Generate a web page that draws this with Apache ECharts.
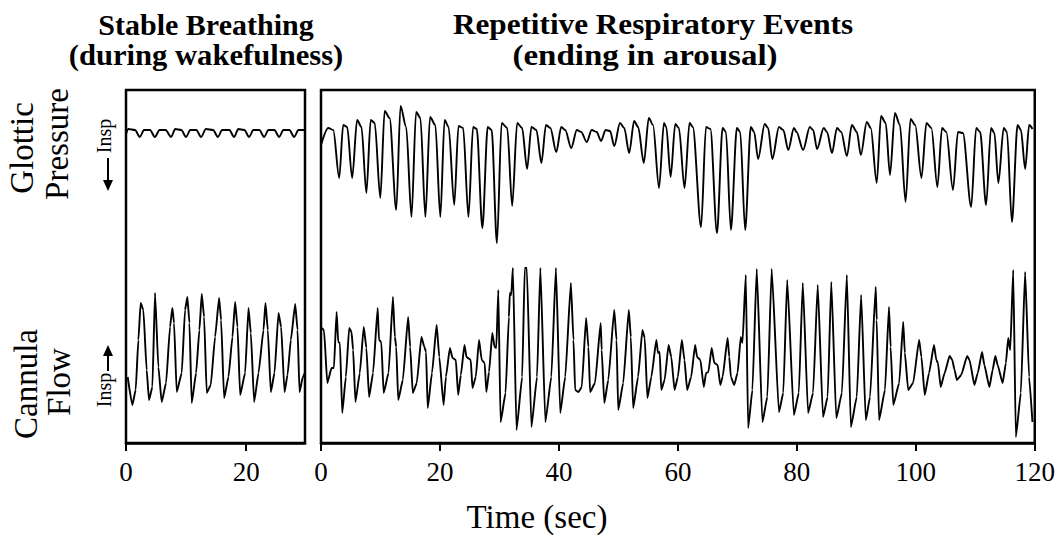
<!DOCTYPE html>
<html>
<head>
<meta charset="utf-8">
<script src="https://cdn.jsdelivr.net/npm/echarts@6/dist/echarts.min.js"></script>
<style>
html,body{margin:0;padding:0;background:#fff;}
#chart{width:1058px;height:542px;}
</style>
</head>
<body>
<div id="chart"></div>
<script>
// ---- Data (time in s, signals in arbitrary units) ----
const leftTicks = [0, 20];
const rightTicks = [0, 20, 40, 60, 80, 100, 120];

const leftPressure = [[0,-4],[0.4,1],[1.5,0],[2.3,-7],[3.0,0],[4.0,0],[4.8,-7],[5.6,0],[6.6,0],[7.5,-7],[8.2,1],[9.2,0],[10.0,-7],[10.7,0],[11.7,0],[12.5,-7],[13.3,1],[14.5,0],[15.3,-7],[16.0,0],[17.2,0],[18.0,-7],[18.7,1],[19.7,0],[20.5,-7],[21.2,0],[22.2,0],[23.0,-7],[23.7,0],[24.7,0],[25.5,-7],[26.2,0],[27.2,0],[28.0,-7],[28.7,0],[29.8,0]];

const leftFlow = [[0.28,-7],[1.06,-35],[1.61,-20],[2.06,30],[2.44,67],[2.89,60],[3.44,0],[3.83,-30],[4.39,-17],[4.83,77],[5.39,3],[5.94,-32],[6.67,-13],[7.33,43],[7.72,62],[8.00,47],[8.44,-22],[9.28,-3],[9.83,60],[10.22,73],[10.56,47],[10.94,-33],[11.67,-3],[12.22,40],[12.61,76],[13.00,53],[13.44,-23],[14.11,-15],[14.83,33],[15.50,72],[15.83,50],[16.33,-28],[17.06,-7],[17.72,33],[18.17,68],[18.56,43],[19.00,-25],[19.83,-3],[20.39,62],[20.78,37],[21.33,-32],[22.06,-3],[22.89,40],[23.22,67],[23.61,40],[24.11,-22],[24.72,-3],[25.39,57],[25.83,43],[26.39,-22],[26.89,-5],[27.44,30],[28.17,66],[28.56,40],[28.89,-22],[29.44,-7],[29.78,-3]];

const rightPressure = [[0,-15],[1.23,2],[2.06,0],[3.06,-48],[3.73,5],[4.40,3],[5.24,-48],[6.07,10],[6.80,3],[7.63,-63],[8.36,10],[9.03,7],[9.97,-68],[10.70,19],[11.53,12],[12.65,-80],[13.37,24],[14.32,3],[15.21,-87],[15.99,18],[16.71,12],[17.55,-87],[18.33,13],[19.22,5],[20.06,-87],[20.78,10],[21.45,3],[22.40,-75],[23.12,4],[23.90,2],[24.79,-87],[25.57,3],[26.19,1],[27.13,-98],[28.03,3],[28.69,0],[29.58,-113],[30.37,7],[31.31,2],[32.14,-76],[32.98,7],[33.81,2],[34.65,-39],[35.38,3],[36.21,0],[37.05,-33],[37.83,5],[38.56,2],[39.56,-22],[40.39,3],[41.06,0],[42.07,-18],[43.01,0],[43.74,-2],[44.68,-12],[45.51,0],[46.35,-2],[47.08,-11],[47.85,0],[48.59,-1],[49.31,-16],[50.26,7],[50.98,2],[51.81,-23],[52.65,9],[53.32,3],[54.27,-33],[55.11,12],[55.82,5],[56.83,-58],[57.66,7],[58.05,3],[58.78,-47],[59.56,6],[60.17,2],[61.12,-58],[61.96,7],[62.51,3],[63.90,-97],[64.73,3],[65.47,1],[66.57,-103],[67.52,2],[68.08,-2],[68.91,-100],[69.92,2],[70.48,-2],[71.31,-100],[72.26,3],[72.82,-2],[73.49,-29],[74.60,6],[75.16,2],[75.88,-29],[77.00,3],[77.72,0],[78.56,-20],[79.51,2],[79.95,-2],[81.06,-20],[82.18,3],[82.74,0],[83.40,-19],[84.52,2],[85.07,-2],[85.91,-23],[86.75,2],[87.46,-2],[88.42,-26],[89.25,5],[90.09,-2],[90.76,-25],[91.76,8],[92.43,2],[93.43,-53],[94.15,14],[94.94,7],[95.66,-45],[96.49,17],[97.33,5],[98.28,-72],[99.12,11],[99.90,5],[100.95,-48],[101.79,7],[102.62,2],[103.63,-57],[104.41,2],[105.13,-2],[106.25,-60],[107.09,-2],[107.92,-3],[109.31,-77],[110.15,2],[110.82,-2],[111.82,-75],[112.65,2],[113.21,-3],[113.88,-53],[114.78,2],[115.33,-2],[116.16,-92],[117.11,5],[117.67,0],[118.39,-39],[119.06,5],[119.62,1]];

const rightFlow = [[0.11,42],[0.50,40],[1.06,-13],[1.78,2],[2.17,2],[2.62,58],[2.90,28],[3.18,27],[3.57,-43],[4.18,-7],[4.74,42],[5.13,38],[5.40,20],[5.79,-32],[6.52,-3],[7.19,43],[7.63,22],[8.08,-27],[8.75,-3],[9.53,62],[9.75,30],[10.14,28],[10.53,-23],[11.36,-3],[12.09,73],[12.42,33],[12.65,23],[12.98,-30],[13.76,-10],[14.65,53],[14.99,23],[15.43,-23],[16.10,-13],[16.88,33],[17.38,23],[17.66,18],[17.94,-38],[18.66,-3],[19.44,45],[19.89,13],[20.61,-35],[21.00,-7],[21.67,22],[22.12,12],[22.67,10],[23.06,-25],[23.51,-5],[24.12,25],[24.46,13],[25.18,10],[25.46,-18],[26.02,-7],[26.57,30],[27.02,10],[27.52,7],[27.80,-22],[28.25,-2],[28.80,37],[29.19,23],[29.47,22],[29.81,80],[30.19,-52],[31.03,-23],[31.59,53],[31.75,77],[31.98,75],[32.26,102],[32.87,-60],[33.82,-7],[34.26,102],[34.60,102],[35.38,-57],[36.32,-7],[36.88,102],[37.72,-52],[38.72,-7],[39.50,102],[40.22,-43],[41.06,-7],[42.01,87],[42.45,30],[42.73,-20],[43.29,-22],[43.84,-17],[44.57,52],[44.96,23],[45.24,-22],[46.07,-13],[47.02,47],[47.19,20],[47.63,-33],[48.30,-10],[49.30,60],[49.69,30],[49.97,-40],[50.81,-13],[51.75,60],[52.09,33],[52.48,-38],[53.31,-7],[54.04,40],[54.43,32],[54.87,-28],[55.54,-7],[56.38,30],[56.66,17],[56.94,18],[57.21,-20],[57.77,-10],[58.44,25],[58.89,13],[59.44,-20],[60.00,-7],[60.67,30],[61.11,10],[61.56,-20],[62.23,-7],[62.90,25],[63.23,13],[63.79,10],[64.35,-17],[64.74,-3],[65.13,-2],[65.68,22],[66.13,7],[66.69,5],[67.13,-15],[67.52,-7],[68.36,32],[68.64,13],[68.91,-7],[69.47,-15],[70.03,-3],[70.58,33],[70.86,27],[71.42,95],[71.81,-58],[72.53,-20],[73.26,101],[74.21,-52],[75.04,-27],[75.77,101],[76.99,-42],[77.72,-23],[78.38,90],[79.50,-45],[80.33,-23],[81.00,87],[81.89,-43],[82.73,-23],[83.51,85],[84.40,-47],[85.18,-27],[85.79,88],[86.63,-48],[87.58,-23],[88.41,95],[89.08,-57],[90.08,-27],[90.81,75],[91.59,-50],[92.31,-27],[93.26,83],[93.43,50],[93.82,-50],[94.82,-20],[95.49,63],[95.77,23],[96.21,-35],[97.21,-13],[97.88,48],[98.16,17],[98.72,-20],[99.55,-13],[100.56,30],[100.95,13],[101.50,-25],[102.23,-3],[103.06,25],[103.45,10],[103.73,7],[104.18,-17],[104.85,-3],[105.68,14],[106.13,10],[106.52,0],[106.91,-10],[107.63,-5],[108.64,14],[109.03,10],[109.86,-15],[110.42,-3],[111.14,18],[111.53,5],[112.37,-17],[112.92,0],[113.37,14],[113.76,5],[114.60,-13],[115.15,7],[115.54,32],[115.88,20],[116.38,100],[116.82,-67],[117.66,-23],[118.38,98],[119.05,-7],[119.61,-52]];

// ---- Chart ----
const chart = echarts.init(document.getElementById('chart'), null, {renderer: 'svg'});
const SERIF = 'Liberation Serif';

function xAx(grid, max, ticks) {
  return {
    gridIndex: grid, type: 'value', min: 0, max: max,
    axisLine: {show: true, onZero: false, lineStyle: {color: '#000', width: 2.5}},
    axisTick: {show: true, inside: false, length: 8, customValues: ticks, lineStyle: {color: '#000', width: 2}},
    axisLabel: {show: true, customValues: ticks, margin: 15, color: '#000', fontFamily: SERIF, fontSize: 27,
      formatter: v => String(v)},
    splitLine: {show: false}
  };
}
function yAx(grid, min, max) {
  return {gridIndex: grid, type: 'value', min: min, max: max, show: false, splitLine: {show: false}};
}
function ser(xi, yi, data, sm) {
  return {type: 'line', xAxisIndex: xi, yAxisIndex: yi, data: data, showSymbol: false, symbol: 'none',
    smooth: sm, smoothMonotone: 'x',
    lineStyle: {color: '#000', width: 1.9}, clip: true, animation: false};
}
function txt(x, y, s, size, weight, el) {
  return Object.assign({type: 'text', x: x, y: y, silent: true,
    style: {text: s, fill: '#000', fontFamily: SERIF, fontSize: size, fontWeight: weight,
      align: 'center', verticalAlign: 'middle'}}, el || {});
}
const V = Math.PI / 2;

const option = {
  backgroundColor: '#fff',
  animation: false,
  grid: [
    {left: 126, top: 90, width: 179, height: 353, show: true, borderColor: '#000', borderWidth: 2.5, backgroundColor: 'transparent'},
    {left: 321, top: 90, width: 718, height: 353, show: true, borderColor: '#000', borderWidth: 2.5, backgroundColor: 'transparent'}
  ],
  xAxis: [xAx(0, 29.8, leftTicks), xAx(1, 120, rightTicks)],
  yAxis: [yAx(0, -313, 40), yAx(0, -73, 280), yAx(1, -313, 40), yAx(1, -73, 280)],
  series: [ser(0, 0, leftPressure, 0.3), ser(0, 1, leftFlow, 0.15), ser(1, 2, rightPressure, 0.3), ser(1, 3, rightFlow, 0.15)],
  graphic: [
    txt(206, 24, 'Stable Breathing', 30, 'bold'),
    txt(206, 55, '(during wakefulness)', 30, 'bold', {scaleX: 1.02}),
    txt(653, 24, 'Repetitive Respiratory Events', 30, 'bold', {scaleX: 1.04}),
    txt(645, 55, '(ending in arousal)', 30, 'bold', {scaleX: 1.1}),
    txt(22, 148, 'Glottic', 33, 'normal', {rotation: V}),
    txt(57, 144, 'Pressure', 33, 'normal', {rotation: V}),
    txt(26, 384, 'Cannula', 33, 'normal', {rotation: V}),
    txt(59, 382, 'Flow', 33, 'normal', {rotation: V}),
    txt(104, 136, 'Insp', 20, 'normal', {rotation: V}),
    txt(104, 390, 'Insp', 20, 'normal', {rotation: V}),
    {type: 'line', silent: true, shape: {x1: 108, y1: 158, x2: 108, y2: 186}, style: {stroke: '#000', lineWidth: 2}},
    {type: 'polygon', silent: true, shape: {points: [[103, 180], [113, 180], [108, 191]]}, style: {fill: '#000'}},
    {type: 'line', silent: true, shape: {x1: 108, y1: 350, x2: 108, y2: 371}, style: {stroke: '#000', lineWidth: 2}},
    {type: 'polygon', silent: true, shape: {points: [[103, 356], [113, 356], [108, 345]]}, style: {fill: '#000'}},
    txt(537, 517, 'Time (sec)', 33, 'normal')
  ]
};
chart.setOption(option);
</script>
</body>
</html>
